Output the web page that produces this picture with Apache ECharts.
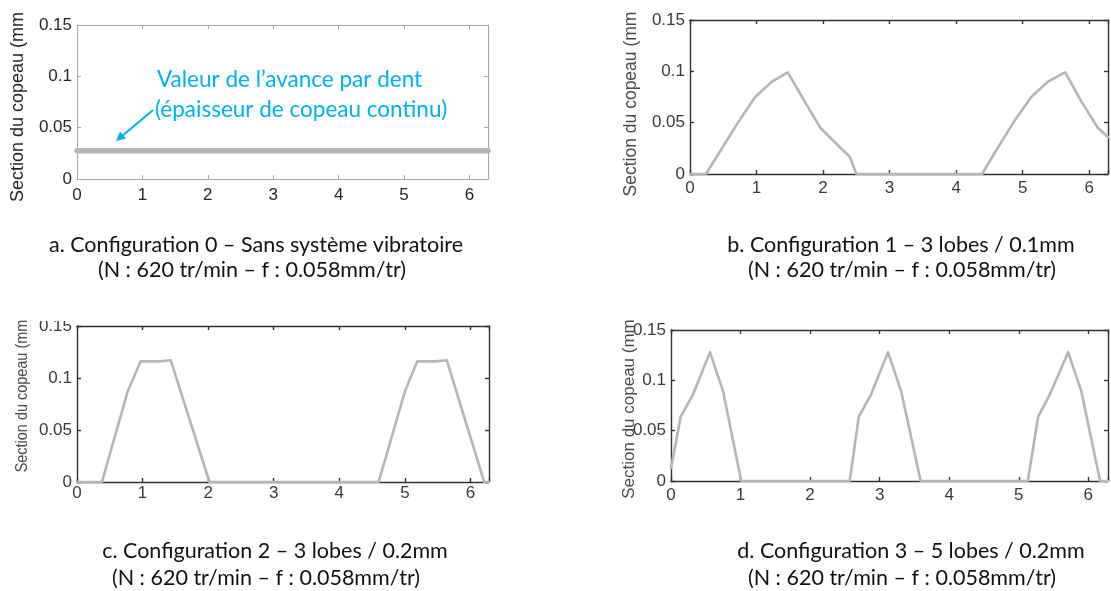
<!DOCTYPE html>
<html><head><meta charset="utf-8">
<script src="https://cdn.jsdelivr.net/npm/echarts@6/dist/echarts.min.js"></script>
<style>html,body{margin:0;padding:0;background:#fff}#c{width:1111px;height:591px}</style>
</head><body><div id="c"></div>
<script>
// ---------- data ----------
const xTickLabels = [0, 1, 2, 3, 4, 5, 6];
const yTickLabels = [0, 0.05, 0.1, 0.15];

// a. Configuration 0 – constant chip thickness
const angle0   = [0, 6.2832];
const section0 = [0.0275, 0.0275];

// b. Configuration 1 – 3 lobes / 0.1mm
const angle1   = [0, 0.24, 0.49, 0.74, 0.98, 1.23, 1.47, 1.72, 1.96, 2.16, 2.35, 2.40, 2.50, 4.39, 4.63, 4.88, 5.13, 5.38, 5.64, 5.88, 6.13, 6.2832];
const section1 = [0, 0, 0.026, 0.052, 0.075, 0.090, 0.099, 0.071, 0.045, 0.032, 0.020, 0.017, 0, 0, 0.026, 0.052, 0.075, 0.090, 0.099, 0.071, 0.045, 0.036];

// c. Configuration 2 – 3 lobes / 0.2mm
const angle2   = [0, 0.38, 0.77, 0.97, 1.25, 1.27, 1.43, 2.02, 4.60, 5.00, 5.19, 5.47, 5.49, 5.64, 6.21, 6.2832];
const section2 = [0, 0, 0.0865, 0.116, 0.116, 0.117, 0.117, 0, 0, 0.087, 0.116, 0.116, 0.117, 0.117, 0, 0];

// d. Configuration 3 – 5 lobes / 0.2mm
const angle3   = [0, 0.14, 0.31, 0.56, 0.75, 1.01, 2.57, 2.70, 2.87, 3.12, 3.31, 3.59, 5.13, 5.28, 5.44, 5.71, 5.90, 6.17, 6.2832];
const section3 = [0.013, 0.064, 0.085, 0.128, 0.089, 0, 0, 0.064, 0.085, 0.128, 0.089, 0, 0, 0.064, 0.085, 0.128, 0.089, 0, 0];

const yAxisName = 'Section du copeau (mm';
const captions = [
  ['a. Configuration 0 – Sans système vibratoire', '(N : 620 tr/min – f : 0.058mm/tr)'],
  ['b. Configuration 1 – 3 lobes / 0.1mm', '(N : 620 tr/min – f : 0.058mm/tr)'],
  ['c. Configuration 2 – 3 lobes / 0.2mm', '(N : 620 tr/min – f : 0.058mm/tr)'],
  ['d. Configuration 3 – 5 lobes / 0.2mm', '(N : 620 tr/min – f : 0.058mm/tr)']
];
const annotation = ['Valeur de l’avance par dent', '(épaisseur de copeau continu)'];

// ---------- layout / style ----------
const X_MAX = 2 * Math.PI;
const panels = [
  {grid:{left:77, top:25, width:411, height:154}, axis:'#a8a8a8', axisW:1, label:'#262626', xMargin:8, lw:5.5,
   name:{x:18, y:107, size:18, sx:1, color:'#262626'}, cap:[[256,245],[252,270]], xs:angle0, ys:section0},
  {grid:{left:690, top:20, width:428, height:154}, axis:'#333', axisW:1.4, label:'#3a3a3a', xMargin:6, lw:2.6,
   name:{x:631, y:104, size:17.5, sx:1, color:'#4a4a4a'}, cap:[[901,245],[902,270]], xs:angle1, ys:section1},
  {grid:{left:77, top:326, width:412, height:156}, axis:'#333', axisW:1.4, label:'#3a3a3a', xMargin:3, lw:2.6,
   name:{x:22, y:396, size:17, sx:0.85, color:'#4a4a4a'}, cap:[[275,551],[266,578]], xs:angle2, ys:section2},
  {grid:{left:671, top:330, width:444, height:151}, axis:'#333', axisW:1.4, label:'#3a3a3a', xMargin:6, lw:2.6,
   name:{x:629, y:409, size:17, sx:1, color:'#4a4a4a'}, cap:[[911,551],[902,578]], xs:angle3, ys:section3}
];

const grids = [], xAxes = [], yAxes = [], series = [], graphics = [];
panels.forEach((p, i) => {
  grids.push(Object.assign({containLabel:false}, p.grid));
  const line = {show:true, onZero:false, lineStyle:{color:p.axis, width:p.axisW}};
  const tick = {show:true, inside:true, length:4, lineStyle:{color:p.axis, width:p.axisW}};
  const lab = {color:p.label, fontFamily:'Liberation Sans, Arial, sans-serif', fontSize:17};
  xAxes.push({gridIndex:i, type:'value', position:'bottom', min:0, max:X_MAX, interval:1,
    axisLine:line, axisTick:tick, splitLine:{show:false},
    axisLabel:Object.assign({margin:p.xMargin, formatter:v => xTickLabels.includes(v) ? String(v) : ''}, lab)});
  xAxes.push({gridIndex:i, type:'value', position:'top', min:0, max:X_MAX, interval:1,
    axisLine:line, axisTick:tick, splitLine:{show:false}, axisLabel:{show:false}});
  yAxes.push({gridIndex:i, type:'value', position:'left', min:0, max:0.15, interval:0.05,
    axisLine:line, axisTick:tick, splitLine:{show:false},
    axisLabel:Object.assign({margin:5, formatter:v => yTickLabels.some(t => Math.abs(t - v) < 1e-9) ? String(+v.toFixed(2)) : ''}, lab)});
  yAxes.push({gridIndex:i, type:'value', position:'right', min:0, max:0.15, interval:0.05,
    axisLine:line, axisTick:tick, splitLine:{show:false}, axisLabel:{show:false}});
  series.push({type:'line', xAxisIndex:2*i, yAxisIndex:2*i, showSymbol:false, symbol:'none',
    clip: i !== 0, silent:true,
    lineStyle:{color:'#b6b6b6', width:p.lw, cap:'round', join:'round'},
    data:p.xs.map((x, k) => [x, p.ys[k]])});
  graphics.push({type:'text', x:p.name.x, y:p.name.y, rotation:Math.PI/2, scaleX:p.name.sx, z:50,
    style:{text:yAxisName, fill:p.name.color, font:p.name.size + 'px "Liberation Sans", Arial, sans-serif',
      textAlign:'center', textVerticalAlign:'middle'}});
  captions[i].forEach((t, k) => graphics.push({type:'text', x:p.cap[k][0], y:p.cap[k][1], z:50,
    style:{text:t, fill:'#111', font:'21.5px Lato, "Open Sans", sans-serif', textAlign:'center', textVerticalAlign:'middle'}}));
});

// panel c: top of the picture is cut in the reference
graphics.push({type:'rect', shape:{x:30, y:300, width:46, height:21}, style:{fill:'#fff'}, z:100});

// annotation of panel a
const blue = '#00B0F0';
graphics.push({type:'text', x:157, y:80, z:50, style:{text:annotation[0], fill:blue, font:'22.5px Lato, "Open Sans", sans-serif', textAlign:'left', textVerticalAlign:'middle'}});
graphics.push({type:'text', x:155, y:110, z:50, style:{text:annotation[1], fill:blue, font:'22.5px Lato, "Open Sans", sans-serif', textAlign:'left', textVerticalAlign:'middle'}});
graphics.push({type:'line', shape:{x1:153, y1:110, x2:121, y2:137}, style:{stroke:blue, lineWidth:2}, z:50});
graphics.push({type:'polygon', shape:{points:[[116,141],[126,138.5],[120,131.5]]}, style:{fill:blue}, z:50});

const chart = echarts.init(document.getElementById('c'), null, {renderer:'canvas'});
chart.setOption({
  animation:false,
  backgroundColor:'#fff',
  grid:grids, xAxis:xAxes, yAxis:yAxes, series:series, graphic:graphics
});
</script>
</body></html>
